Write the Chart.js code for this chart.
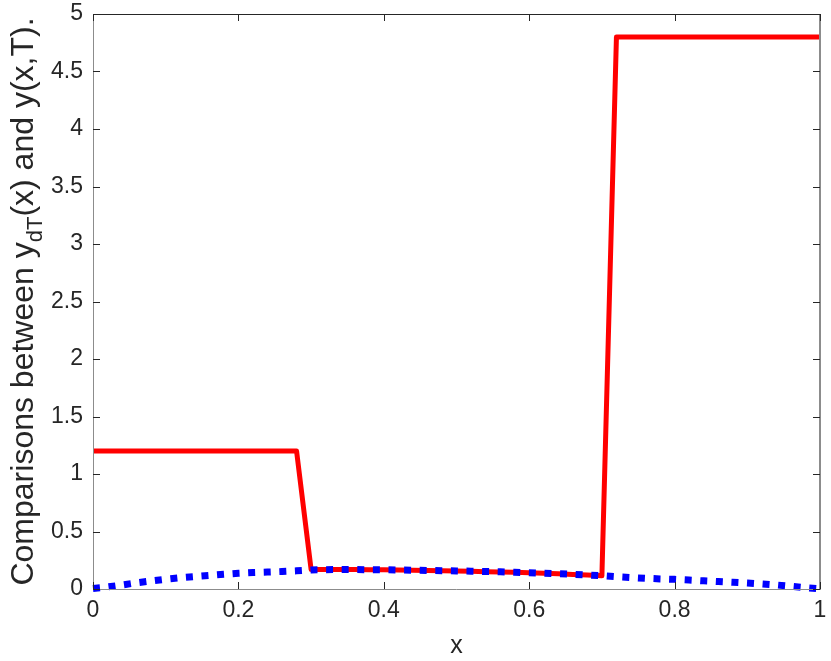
<!DOCTYPE html>
<html>
<head>
<meta charset="utf-8">
<script src="https://cdn.jsdelivr.net/npm/chart.js@4/dist/chart.umd.min.js"></script>
<style>
  html, body { margin: 0; padding: 0; background: #ffffff; }
  #wrap { width: 831px; height: 661px; position: relative; }
</style>
</head>
<body>
<div id="wrap"><canvas id="c" width="831" height="661"></canvas></div>
<script>
// ---- data ----
const xValues = [0,0.02,0.04,0.06,0.08,0.10,0.12,0.14,0.16,0.18,0.20,0.22,0.24,0.26,0.28,
  0.30,0.32,0.34,0.36,0.38,0.40,0.42,0.44,0.46,0.48,0.50,0.52,0.54,0.56,0.58,0.60,
  0.62,0.64,0.66,0.68,0.70,0.72,0.74,0.76,0.78,0.80,0.82,0.84,0.86,0.88,0.90,0.92,0.94,0.96,0.98,1.00];
// y(x,T): blue dotted
const yState = [0.005,0.018,0.035,0.054,0.070,0.085,0.098,0.108,0.118,0.128,0.137,0.143,0.147,0.152,0.158,
  0.166,0.168,0.169,0.169,0.168,0.167,0.165,0.163,0.161,0.159,0.157,0.155,0.152,0.149,0.146,0.142,
  0.138,0.133,0.128,0.122,0.115,0.107,0.100,0.093,0.088,0.084,0.078,0.071,0.065,0.059,0.052,0.044,0.035,0.024,0.012,0.002];
// y_dT(x): red solid
const yTarget = [1.2,1.2,1.2,1.2,1.2,1.2,1.2,1.2,1.2,1.2,1.2,1.2,1.2,1.2,1.2,
  0.170,0.170,0.170,0.169,0.168,0.167,0.165,0.163,0.161,0.159,0.157,0.154,0.151,0.148,0.145,0.141,
  0.137,0.132,0.127,0.121,0.115,4.8,4.8,4.8,4.8,4.8,4.8,4.8,4.8,4.8,4.8,4.8,4.8,4.8,4.8,4.8];
const xTicks = [0,0.2,0.4,0.6,0.8,1];
const yTicks = [0,0.5,1,1.5,2,2.5,3,3.5,4,4.5,5];
const xLabel = 'x';
const yLabelParts = [['Comparisons between y', false], ['dT', true], ['(x) and y(x,T).', false]];

const FONT = '"Liberation Sans", Arial, Helvetica, sans-serif';
const TXT = '#262626';

const toPts = (xs, ys) => xs.map((x, i) => ({x: x, y: ys[i]}));

const framePlugin = {
  id: 'frame',
  afterDraw(chart) {
    const ctx = chart.ctx;
    const a = chart.chartArea;
    const xs = chart.scales.x, ys = chart.scales.y;
    ctx.save();
    // axes box
    ctx.lineWidth = 1;
    ctx.strokeStyle = '#8c8c8c';
    ctx.beginPath();
    ctx.moveTo(a.left + 0.5, a.top); ctx.lineTo(a.left + 0.5, a.bottom + 0.5);
    ctx.lineTo(a.right, a.bottom + 0.5);
    ctx.stroke();
    ctx.lineWidth = 2;
    ctx.beginPath();
    ctx.moveTo(a.right, a.top); ctx.lineTo(a.right, a.bottom + 1);
    ctx.stroke();
    ctx.lineWidth = 1;
    ctx.strokeStyle = TXT;
    ctx.beginPath();
    ctx.moveTo(a.left, a.top + 0.5); ctx.lineTo(a.right + 1, a.top + 0.5);
    ctx.stroke();
    // inward ticks
    const tl = 7;
    ctx.strokeStyle = TXT;
    ctx.lineWidth = 1;
    ctx.beginPath();
    xTicks.forEach(v => {
      const px = Math.round(xs.getPixelForValue(v)) + 0.5;
      ctx.moveTo(px, a.bottom); ctx.lineTo(px, a.bottom - tl);
      ctx.moveTo(px, a.top); ctx.lineTo(px, a.top + tl);
    });
    yTicks.forEach(v => {
      const py = Math.round(ys.getPixelForValue(v)) + 0.5;
      ctx.moveTo(a.left, py); ctx.lineTo(a.left + tl, py);
      ctx.moveTo(a.right, py); ctx.lineTo(a.right - tl, py);
    });
    ctx.stroke();
    // y label with subscript
    const mainSize = 32, subSize = 22;
    let total = 0;
    yLabelParts.forEach(([t, sub]) => {
      ctx.font = (sub ? subSize : mainSize) + 'px ' + FONT;
      total += ctx.measureText(t).width;
    });
    const baseX = 33;
    const centerY = (a.top + a.bottom) / 2;
    ctx.translate(baseX, centerY);
    ctx.rotate(-Math.PI / 2);
    ctx.fillStyle = TXT;
    ctx.textBaseline = 'alphabetic';
    ctx.textAlign = 'left';
    let cx = -total / 2;
    yLabelParts.forEach(([t, sub]) => {
      ctx.font = (sub ? subSize : mainSize) + 'px ' + FONT;
      ctx.fillText(t, cx, sub ? 9 : 0);
      cx += ctx.measureText(t).width;
    });
    ctx.restore();
  }
};

new Chart(document.getElementById('c'), {
  type: 'scatter',
  data: {
    datasets: [
      {
        label: 'y(x,T)',
        data: toPts(xValues, yState),
        showLine: true,
        borderColor: '#0000ff',
        borderWidth: 7,
        borderDash: [7, 8.6],
        borderCapStyle: 'butt',
        pointRadius: 0,
        tension: 0,
        clip: false
      },
      {
        label: 'y_dT(x)',
        data: toPts(xValues, yTarget),
        showLine: true,
        borderColor: '#ff0000',
        borderWidth: 5,
        borderJoinStyle: 'round',
        pointRadius: 0,
        tension: 0,
        clip: false
      }
    ]
  },
  options: {
    responsive: false,
    animation: false,
    devicePixelRatio: 1,
    layout: { padding: { top: 14, right: 11, left: 0, bottom: 0 } },
    plugins: { legend: { display: false }, tooltip: { enabled: false } },
    scales: {
      x: {
        type: 'linear', min: 0, max: 1,
        afterBuildTicks: s => { s.ticks = xTicks.map(v => ({value: v})); },
        afterFit: s => { s.height = 72; s.paddingLeft = 0; s.paddingRight = 0; },
        grid: { display: false, drawTicks: false },
        border: { display: false },
        ticks: { color: TXT, font: { family: FONT, size: 23 }, padding: 8,
                 callback: v => String(+v.toFixed(2)) },
        title: { display: true, text: xLabel, color: TXT, font: { family: FONT, size: 25 },
                 padding: { top: 0, bottom: 0 } }
      },
      y: {
        type: 'linear', min: 0, max: 5,
        afterBuildTicks: s => { s.ticks = yTicks.map(v => ({value: v})); },
        afterFit: s => { s.width = 93; s.paddingTop = 0; s.paddingBottom = 0; },
        grid: { display: false, drawTicks: false },
        border: { display: false },
        ticks: { color: TXT, font: { family: FONT, size: 23 }, padding: 10,
                 callback: v => String(+v.toFixed(2)) }
      }
    }
  },
  plugins: [framePlugin]
});
</script>
</body>
</html>
